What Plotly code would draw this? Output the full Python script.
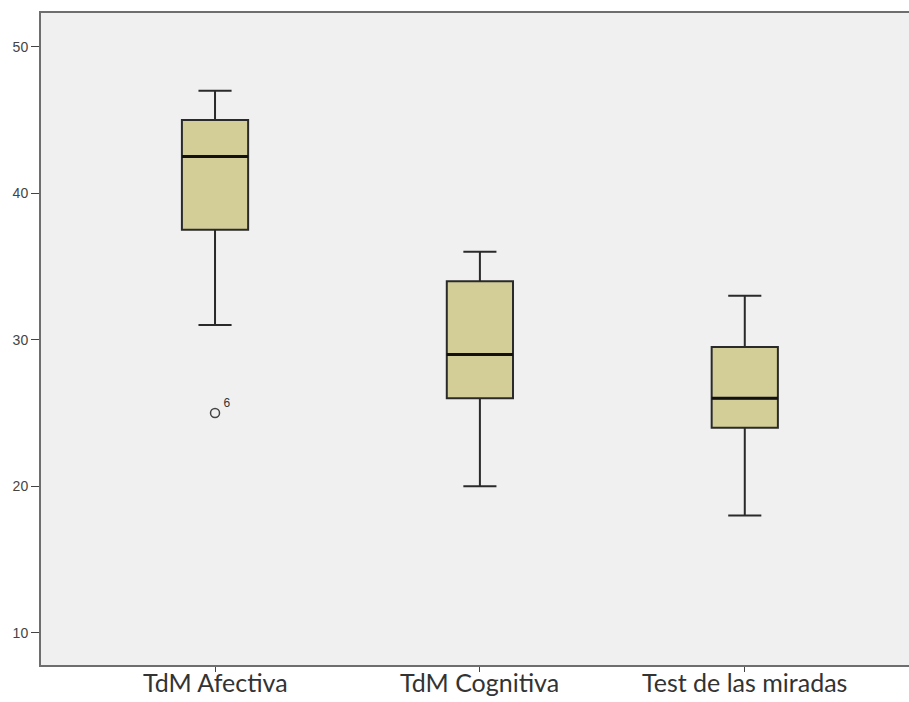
import plotly.graph_objects as go

categories = ["TdM Afectiva", "TdM Cognitiva", "Test de las miradas"]
upper_whisker = [47, 36, 33]
q3 = [45, 34, 29.5]
median = [42.5, 29, 26]
q1 = [37.5, 26, 24]
lower_whisker = [31, 20, 18]
outlier_cat = [0]
outlier_val = [25]
outlier_label = ["6"]
y_ticks = [10, 20, 30, 40, 50]

pos = list(range(len(categories)))
box_w = 0.25

fig = go.Figure()
fig.add_trace(go.Box(
    x=pos, q1=q1, median=median, q3=q3,
    lowerfence=lower_whisker, upperfence=upper_whisker,
    width=box_w, whiskerwidth=0.5,
    fillcolor="rgb(211,206,152)",
    line=dict(color="#2a2a2a", width=2),
    boxpoints=False, showlegend=False, hoverinfo="skip",
))
# thicker median lines
for i, m in zip(pos, median):
    fig.add_trace(go.Scatter(
        x=[i - box_w / 2, i + box_w / 2], y=[m, m], mode="lines",
        line=dict(color="#111111", width=3), showlegend=False, hoverinfo="skip",
    ))
fig.add_trace(go.Scatter(
    x=outlier_cat, y=outlier_val, mode="markers",
    marker=dict(symbol="circle-open", size=9, color="#444444", line=dict(width=1.5)),
    showlegend=False, hoverinfo="skip",
))
fig.add_trace(go.Scatter(
    x=[c + 0.045 for c in outlier_cat], y=[v + 0.2 for v in outlier_val],
    mode="text", text=outlier_label, textposition="top center",
    textfont=dict(size=12, color="#333333", family="Liberation Sans, Arial"),
    showlegend=False, hoverinfo="skip",
))

# category labels under the axis
for i, cat in zip(pos, categories):
    fig.add_annotation(
        x=i, y=0, xref="x", yref="paper", text=cat, showarrow=False,
        xanchor="center", yanchor="middle", yshift=-17,
        font=dict(family="Lato, Open Sans", size=25, color="#333333"),
    )

fig.update_layout(
    width=909, height=702,
    margin=dict(l=41, r=0, t=13, b=37),
    paper_bgcolor="white", plot_bgcolor="#f0f0f0",
    xaxis=dict(
        range=[-0.657, 2.62], tickvals=pos, showticklabels=False,
        showgrid=False, zeroline=False, automargin=False,
        showline=True, linecolor="#6e6e6e", linewidth=2, mirror=True,
        ticks="outside", ticklen=5, tickcolor="#444444",
    ),
    yaxis=dict(
        range=[7.8, 52.3], tickvals=y_ticks,
        showgrid=False, zeroline=False, automargin=False,
        showline=True, linecolor="#6e6e6e", linewidth=2,
        ticks="outside", ticklen=8, tickcolor="#444444",
        ticklabelstandoff=0,
        tickfont=dict(family="Liberation Sans, Arial", size=14, color="#444444"),
    ),
)

fig.write_html(
    "out.html",
    config={"displayModeBar": False},
    post_script="document.body.style.margin='0';document.body.style.overflow='hidden';",
)
